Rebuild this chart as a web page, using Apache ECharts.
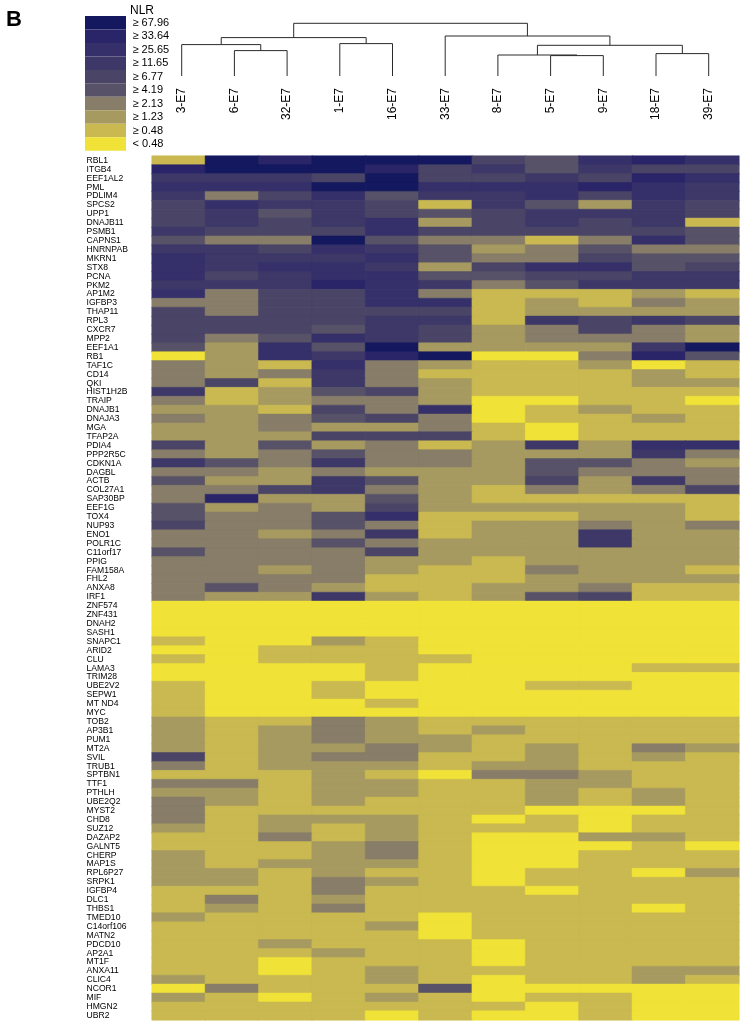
<!DOCTYPE html>
<html style="height: 100%">
<head>
<meta charset="utf-8">
<style>body { margin: 0; background: #fff; }</style>
</head>
<body>
<div id="container" style="width: 748px; height: 1030px"></div>
<script src="https://cdn.jsdelivr.net/npm/echarts@6/dist/echarts.min.js"></script>
<script>
var samples = ['3-E7', '6-E7', '32-E7', '1-E7', '16-E7', '33-E7', '8-E7', '5-E7', '9-E7', '18-E7', '39-E7'];
var binLabels = ['< 0.48', '≥ 0.48', '≥ 1.23', '≥ 2.13', '≥ 4.19', '≥ 6.77', '≥ 11.65', '≥ 25.65', '≥ 33.64', '≥ 67.96'];
var binColors = ['#f0e236', '#c9b950', '#a69a60', '#877d68', '#575268', '#4a4567', '#3d3868', '#35306a', '#2a2568', '#14195f'];

var genes = ['RBL1', 'ITGB4', 'EEF1AL2', 'PML', 'PDLIM4', 'SPCS2', 'UPP1', 'DNAJB11', 'PSMB1', 'CAPNS1', 'HNRNPAB', 'MKRN1', 'STX8', 'PCNA', 'PKM2', 'AP1M2',
    'IGFBP3', 'THAP11', 'RPL3', 'CXCR7', 'MPP2', 'EEF1A1', 'RB1', 'TAF1C', 'CD14', 'QKI', 'HIST1H2B', 'TRAIP', 'DNAJB1', 'DNAJA3', 'MGA', 'TFAP2A',
    'PDIA4', 'PPP2R5C', 'CDKN1A', 'DAGBL', 'ACTB', 'COL27A1', 'SAP30BP', 'EEF1G', 'TOX4', 'NUP93', 'ENO1', 'POLR1C', 'C11orf17', 'PPIG', 'FAM158A', 'FHL2', 'ANXA8', 'IRF1',
    'ZNF574', 'ZNF431', 'DNAH2', 'SASH1', 'SNAPC1', 'ARID2', 'CLU', 'LAMA3', 'TRIM28', 'UBE2V2', 'SEPW1', 'MT ND4', 'MYC',
    'TOB2', 'AP3B1', 'PUM1', 'MT2A', 'SVIL', 'TRUB1', 'SPTBN1', 'TTF1', 'PTHLH', 'UBE2Q2', 'MYST2', 'CHD8', 'SUZ12', 'DAZAP2', 'GALNT5', 'CHERP', 'MAP1S', 'RPL6P27', 'SRPK1',
    'IGFBP4', 'DLC1', 'THBS1', 'TMED10', 'C14orf106', 'MATN2', 'PDCD10', 'AP2A1', 'MT1F', 'ANXA11', 'CLIC4', 'NCOR1', 'MIF', 'HMGN2', 'UBR2'];

// colour bin of each cell, one row per gene, columns in the order of samples
var levels = [
    [1, 9, 8, 9, 9, 9, 5, 4, 7, 8, 7],
    [8, 9, 9, 9, 8, 5, 6, 4, 6, 5, 5],
    [6, 6, 6, 5, 9, 5, 5, 6, 5, 8, 7],
    [7, 7, 7, 9, 9, 7, 7, 7, 8, 7, 6],
    [6, 3, 5, 7, 4, 6, 6, 7, 5, 7, 6],
    [5, 7, 6, 6, 5, 1, 6, 4, 2, 6, 5],
    [5, 6, 4, 6, 5, 4, 5, 6, 6, 6, 5],
    [5, 6, 5, 6, 7, 2, 5, 6, 5, 6, 1],
    [6, 5, 5, 5, 7, 5, 5, 5, 5, 5, 4],
    [4, 3, 3, 9, 4, 3, 3, 1, 3, 7, 4],
    [6, 6, 5, 7, 6, 4, 2, 3, 4, 3, 3],
    [7, 6, 6, 6, 7, 4, 3, 3, 5, 4, 4],
    [7, 6, 7, 7, 6, 2, 5, 7, 7, 4, 5],
    [7, 5, 6, 7, 7, 4, 4, 5, 5, 6, 6],
    [6, 6, 6, 8, 7, 6, 3, 4, 6, 6, 6],
    [7, 3, 5, 5, 7, 3, 1, 1, 1, 2, 1],
    [3, 3, 5, 5, 7, 7, 1, 2, 1, 3, 2],
    [5, 3, 5, 5, 5, 5, 1, 2, 2, 2, 2],
    [5, 5, 5, 5, 6, 6, 1, 6, 5, 6, 5],
    [5, 5, 5, 4, 6, 5, 2, 3, 5, 3, 2],
    [5, 3, 4, 7, 6, 5, 2, 3, 3, 3, 2],
    [4, 2, 7, 4, 9, 2, 2, 2, 2, 6, 9],
    [0, 2, 7, 6, 8, 9, 0, 0, 3, 8, 4],
    [3, 2, 1, 7, 3, 2, 1, 1, 2, 0, 1],
    [3, 2, 3, 6, 3, 1, 1, 1, 1, 2, 1],
    [3, 5, 1, 6, 3, 2, 1, 1, 1, 2, 2],
    [6, 1, 2, 4, 5, 2, 1, 1, 1, 1, 1],
    [3, 1, 2, 3, 3, 2, 0, 0, 1, 1, 0],
    [2, 2, 1, 5, 3, 7, 0, 1, 2, 1, 1],
    [3, 2, 3, 4, 5, 3, 0, 1, 1, 2, 1],
    [2, 2, 3, 2, 2, 3, 1, 0, 1, 1, 1],
    [2, 2, 2, 5, 5, 5, 1, 0, 1, 1, 1],
    [5, 2, 4, 2, 3, 1, 2, 6, 2, 7, 7],
    [3, 2, 3, 4, 3, 3, 2, 2, 2, 6, 3],
    [6, 4, 3, 6, 3, 3, 2, 4, 4, 3, 2],
    [3, 3, 2, 3, 2, 2, 2, 4, 3, 3, 3],
    [4, 2, 2, 6, 4, 2, 2, 5, 2, 6, 3],
    [3, 3, 5, 6, 3, 2, 1, 3, 2, 3, 5],
    [3, 8, 2, 2, 4, 2, 1, 1, 1, 1, 1],
    [4, 2, 3, 2, 5, 2, 2, 2, 2, 2, 1],
    [4, 3, 3, 4, 7, 1, 1, 1, 2, 2, 1],
    [5, 3, 3, 4, 3, 1, 2, 2, 3, 2, 3],
    [3, 3, 2, 3, 6, 1, 2, 2, 6, 2, 2],
    [3, 3, 3, 4, 3, 2, 2, 2, 6, 2, 2],
    [4, 3, 3, 3, 5, 2, 2, 2, 2, 2, 2],
    [3, 3, 3, 3, 2, 2, 1, 2, 2, 2, 2],
    [3, 3, 2, 3, 2, 1, 1, 3, 2, 2, 1],
    [3, 3, 3, 3, 1, 1, 1, 2, 2, 2, 2],
    [3, 4, 3, 2, 1, 1, 2, 2, 3, 1, 1],
    [3, 2, 2, 6, 2, 1, 2, 4, 5, 1, 1],
    [0, 0, 0, 0, 0, 0, 0, 0, 0, 0, 0],
    [0, 0, 0, 0, 0, 0, 0, 0, 0, 0, 0],
    [0, 0, 0, 0, 0, 0, 0, 0, 0, 0, 0],
    [0, 0, 0, 0, 0, 0, 0, 0, 0, 0, 0],
    [1, 0, 0, 2, 1, 0, 0, 0, 0, 0, 0],
    [0, 0, 1, 1, 1, 0, 0, 0, 0, 0, 0],
    [1, 0, 1, 1, 1, 1, 0, 0, 0, 0, 0],
    [0, 0, 0, 0, 1, 0, 0, 0, 0, 1, 1],
    [0, 0, 0, 0, 1, 0, 0, 0, 0, 0, 0],
    [1, 0, 0, 1, 0, 0, 0, 1, 1, 0, 0],
    [1, 0, 0, 1, 0, 0, 0, 0, 0, 0, 0],
    [1, 0, 0, 0, 1, 0, 0, 0, 0, 0, 0],
    [1, 0, 0, 0, 0, 0, 0, 0, 0, 0, 0],
    [2, 1, 1, 3, 2, 1, 1, 1, 1, 1, 1],
    [2, 1, 2, 3, 2, 1, 2, 1, 1, 1, 1],
    [2, 1, 2, 3, 2, 2, 1, 1, 1, 1, 1],
    [2, 1, 2, 2, 3, 2, 1, 2, 1, 3, 2],
    [5, 1, 2, 3, 3, 1, 1, 2, 1, 2, 1],
    [3, 1, 2, 2, 2, 1, 2, 2, 1, 1, 1],
    [1, 1, 1, 2, 1, 0, 3, 3, 2, 1, 1],
    [3, 3, 1, 2, 2, 1, 1, 2, 2, 1, 1],
    [2, 2, 1, 2, 2, 1, 1, 2, 1, 2, 1],
    [3, 2, 1, 2, 1, 1, 1, 2, 1, 2, 1],
    [3, 1, 1, 1, 1, 1, 1, 0, 0, 0, 1],
    [3, 1, 2, 2, 2, 1, 0, 1, 0, 1, 1],
    [2, 1, 2, 1, 2, 1, 1, 1, 0, 1, 1],
    [1, 1, 3, 1, 2, 1, 0, 0, 2, 2, 1],
    [1, 1, 1, 2, 3, 1, 0, 0, 0, 1, 0],
    [2, 1, 1, 2, 3, 1, 0, 0, 1, 1, 1],
    [2, 1, 2, 2, 2, 1, 0, 0, 1, 1, 1],
    [2, 2, 1, 2, 1, 1, 0, 1, 1, 0, 2],
    [2, 2, 1, 3, 2, 1, 0, 1, 1, 1, 1],
    [1, 1, 1, 3, 1, 1, 1, 0, 1, 1, 1],
    [1, 3, 1, 2, 1, 1, 1, 1, 1, 1, 1],
    [1, 2, 1, 3, 1, 1, 1, 1, 1, 0, 1],
    [2, 1, 1, 1, 1, 0, 1, 1, 1, 1, 1],
    [1, 1, 1, 1, 2, 0, 1, 1, 1, 1, 1],
    [1, 1, 1, 1, 1, 0, 1, 1, 1, 1, 1],
    [1, 1, 2, 1, 1, 1, 0, 1, 1, 1, 1],
    [1, 1, 1, 2, 1, 1, 0, 1, 1, 1, 1],
    [1, 1, 0, 1, 1, 1, 0, 1, 1, 1, 1],
    [1, 1, 0, 1, 2, 1, 1, 1, 1, 2, 2],
    [2, 1, 1, 1, 2, 1, 0, 1, 1, 2, 1],
    [0, 3, 1, 1, 1, 4, 0, 0, 0, 0, 0],
    [2, 1, 0, 1, 2, 1, 0, 1, 1, 0, 0],
    [1, 1, 1, 1, 1, 1, 1, 0, 1, 0, 0],
    [1, 1, 1, 1, 0, 1, 0, 0, 1, 0, 0]
];

// dendrogram merges: left x, right x, left height, right height, merge height
var merges = [
    [1, 2, 0, 0, 25.4],
    [0, 1.5, 0, 25.4, 31.4],
    [3, 4, 0, 0, 32.4],
    [0.75, 3.5, 31.4, 32.4, 38.4],
    [7, 8, 0, 0, 20.4],
    [6, 7.5, 0, 20.4, 21],
    [9, 10, 0, 0, 22.4],
    [6.75, 9.5, 21, 22.4, 30.7],
    [5, 8.125, 0, 30.7, 40],
    [2.125, 6.56, 38.4, 40, 52.7]
];

var cells = [];
levels.forEach(function (row, r) {
    row.forEach(function (v, c) {
        // thin border of the same colour closes the hairline seams between cells
        cells.push({ value: [c, r, v], itemStyle: { borderColor: binColors[v], borderWidth: 0.5 } });
    });
});

var font = '"Liberation Sans", Arial, sans-serif';
var myChart = echarts.init(document.getElementById('container'));

var option = {
    animation: false,
    backgroundColor: '#fff',
    title: [
        { text: 'B', left: 6, top: 9, padding: 0, textStyle: { fontFamily: font, fontSize: 22, fontWeight: 'bold', color: '#000' } },
        { text: 'NLR', left: 130, top: 5, padding: 0, textStyle: { fontFamily: font, fontSize: 12, fontWeight: 'normal', color: '#000' } }
    ],
    grid: [
        { left: 152, top: 156, width: 587, height: 864 },
        { left: 155.35, top: 10, width: 579.7, height: 66 }
    ],
    xAxis: [
        { type: 'category', gridIndex: 0, data: samples, show: false },
        { type: 'value', gridIndex: 1, min: -0.5, max: 10.5, show: false },
        {
            type: 'category', gridIndex: 1, data: samples, position: 'bottom',
            axisLine: { show: false }, axisTick: { show: false },
            axisLabel: { rotate: 90, margin: 12, interval: 0, fontFamily: font, fontSize: 12, color: '#000' }
        }
    ],
    yAxis: [
        {
            type: 'category', gridIndex: 0, data: genes, inverse: true,
            axisLine: { show: false }, axisTick: { show: false },
            axisLabel: { interval: 0, align: 'left', margin: 65.5, fontFamily: font, fontSize: 8.6, color: '#000' }
        },
        { type: 'value', gridIndex: 1, min: 0, max: 66, show: false }
    ],
    visualMap: {
        type: 'piecewise',
        seriesIndex: 0,
        dimension: 2,
        left: 85,
        top: 16,
        padding: 0,
        itemWidth: 41,
        itemHeight: 13.47,
        itemGap: 0,
        textGap: 6.5,
        selectedMode: false,
        hoverLink: false,
        itemSymbol: 'rect',
        pieces: binLabels.map(function (label, i) {
            return { value: i, label: label, color: binColors[i] };
        }),
        textStyle: { fontFamily: font, fontSize: 11, color: '#000' }
    },
    series: [
        {
            type: 'heatmap',
            xAxisIndex: 0,
            yAxisIndex: 0,
            data: cells,
            progressive: 0,
            emphasis: { disabled: true }
        },
        {
            type: 'custom',
            xAxisIndex: 1,
            yAxisIndex: 1,
            data: merges,
            silent: true,
            renderItem: function (params, api) {
                var a = api.coord([api.value(0), api.value(2)]);
                var b = api.coord([api.value(0), api.value(4)]);
                var c = api.coord([api.value(1), api.value(4)]);
                var d = api.coord([api.value(1), api.value(3)]);
                return {
                    type: 'polyline',
                    shape: { points: [a, b, c, d] },
                    style: { stroke: '#2a2a2a', lineWidth: 1, fill: null }
                };
            }
        }
    ]
};
myChart.setOption(option);
</script>
</body>
</html>
